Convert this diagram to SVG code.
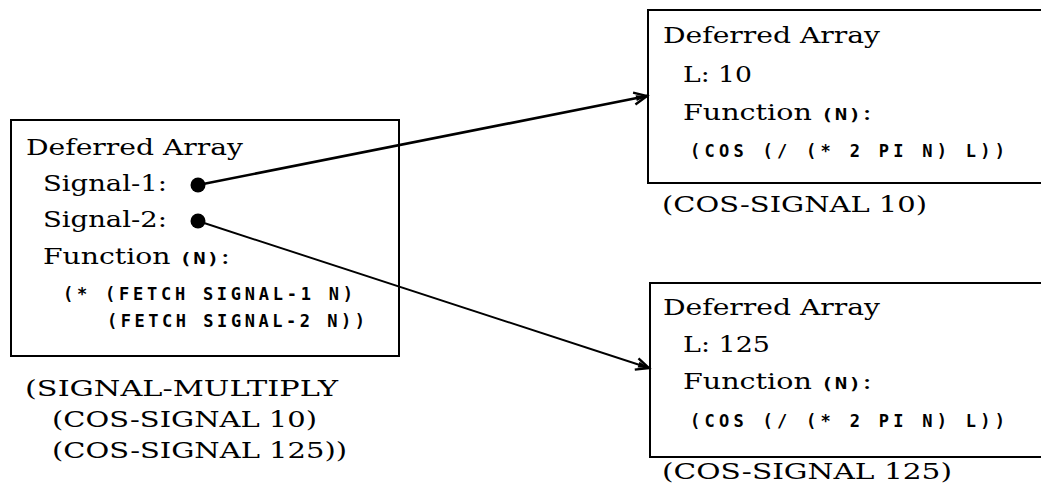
<svg xmlns="http://www.w3.org/2000/svg" width="1041" height="498" viewBox="0 0 1041 498">
  <style>
    .box { fill: #fff; stroke: #000; stroke-width: 2; }
    .serif { font-family: "DejaVu Serif", "Liberation Serif", serif; font-size: 22px; fill: #000; }
    .mono { font-family: "DejaVu Sans Mono", "Liberation Mono", monospace; font-size: 17px; font-weight: bold; fill: #000; }
    .arg { font-family: "DejaVu Sans Mono", "Liberation Mono", monospace; font-size: 16px; font-weight: bold; letter-spacing: 1px; }
    .link { fill: none; stroke: #000; }
  </style>
  <defs>
    <marker id="arrow" markerUnits="userSpaceOnUse" markerWidth="20" markerHeight="16" refX="14" refY="8" orient="auto" overflow="visible">
      <path d="M1,2 L14,8 L1,14 M4,8 L14,8" fill="none" stroke="#000" stroke-width="2.4" stroke-linejoin="miter"/>
      <path d="M3,5 L14,8 L3,11 Z" fill="#000"/>
    </marker>
  </defs>

  <rect width="1041" height="498" fill="#fff"/>

  <!-- product array -->
  <g id="multiply">
    <rect class="box" x="11" y="120" width="388" height="236"/>
    <text class="serif" x="26" y="155" textLength="217" lengthAdjust="spacingAndGlyphs">Deferred Array</text>
    <text class="serif" x="43" y="191" textLength="124" lengthAdjust="spacingAndGlyphs">Signal-1:</text>
    <text class="serif" x="43" y="227" textLength="124" lengthAdjust="spacingAndGlyphs">Signal-2:</text>
    <text class="serif" x="43" y="264" textLength="187" lengthAdjust="spacingAndGlyphs">Function <tspan class="arg">(N)</tspan>:</text>
    <text class="mono" x="63" y="300" textLength="290" lengthAdjust="spacing">(* (FETCH SIGNAL-1 N)</text>
    <text class="mono" x="107" y="327" textLength="258" lengthAdjust="spacing">(FETCH SIGNAL-2 N))</text>
    <circle cx="198" cy="185" r="7.5" fill="#000"/>
    <circle cx="198" cy="221" r="7.5" fill="#000"/>
    <text class="serif" x="25" y="396" textLength="313" lengthAdjust="spacingAndGlyphs">(SIGNAL-MULTIPLY</text>
    <text class="serif" x="52" y="427" textLength="265" lengthAdjust="spacingAndGlyphs">(COS-SIGNAL 10)</text>
    <text class="serif" x="52" y="458" textLength="295" lengthAdjust="spacingAndGlyphs">(COS-SIGNAL 125))</text>
  </g>

  <!-- cosine signal, L = 10 -->
  <g id="cos10">
    <rect class="box" x="648" y="10" width="400" height="173"/>
    <text class="serif" x="663" y="43" textLength="217" lengthAdjust="spacingAndGlyphs">Deferred Array</text>
    <text class="serif" x="683" y="82" textLength="69" lengthAdjust="spacingAndGlyphs">L: 10</text>
    <text class="serif" x="683" y="120" textLength="189" lengthAdjust="spacingAndGlyphs">Function <tspan class="arg">(N)</tspan>:</text>
    <text class="mono" x="690" y="157" textLength="315" lengthAdjust="spacing">(COS (/ (* 2 PI N) L))</text>
    <text class="serif" x="662" y="212" textLength="265" lengthAdjust="spacingAndGlyphs">(COS-SIGNAL 10)</text>
  </g>

  <!-- cosine signal, L = 125 -->
  <g id="cos125">
    <rect class="box" x="650" y="283" width="400" height="174"/>
    <text class="serif" x="663" y="315" textLength="217" lengthAdjust="spacingAndGlyphs">Deferred Array</text>
    <text class="serif" x="683" y="352" textLength="87" lengthAdjust="spacingAndGlyphs">L: 125</text>
    <text class="serif" x="683" y="389" textLength="189" lengthAdjust="spacingAndGlyphs">Function <tspan class="arg">(N)</tspan>:</text>
    <text class="mono" x="690" y="427" textLength="315" lengthAdjust="spacing">(COS (/ (* 2 PI N) L))</text>
    <text class="serif" x="662" y="479" textLength="290" lengthAdjust="spacingAndGlyphs">(COS-SIGNAL 125)</text>
  </g>

  <!-- references from the signal slots -->
  <g id="connectors">
    <line class="link" x1="198" y1="185" x2="647" y2="96" stroke-width="2.6" marker-end="url(#arrow)"/>
    <line class="link" x1="198" y1="221" x2="649" y2="368" stroke-width="1.9" marker-end="url(#arrow)"/>
  </g>
</svg>
